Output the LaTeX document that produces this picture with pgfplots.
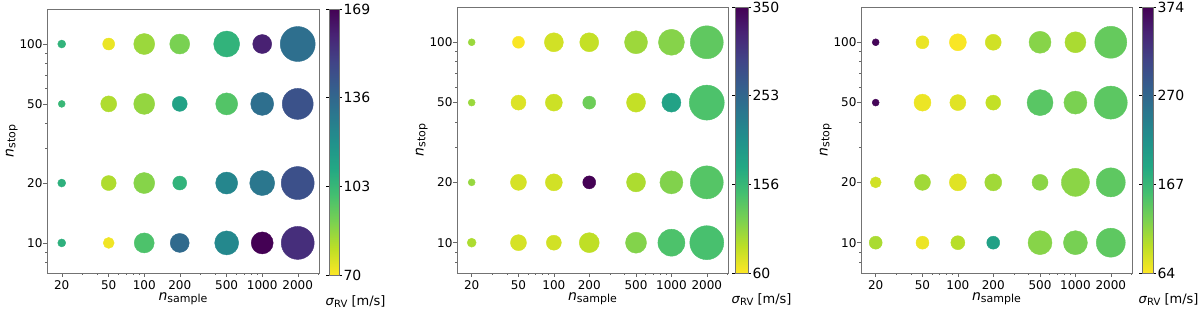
\documentclass[border=0pt]{standalone}
\usepackage{pgfplots}
\pgfplotsset{compat=1.18}
\usepackage{pgfplotstable}
\usepackage{fontspec}
\setmainfont{DejaVu Sans}

\pgfplotstableread{
x y c d
20 100 105 8
50 100 73 12
100 100 85 21
200 100 90 20
500 100 105 26
1000 100 160 19
2000 100 133 35
20 50 103 7
50 50 82 16
100 50 86 21
200 50 112 15
500 50 97 22
1000 50 133 23
2000 50 144 31
20 20 106 8
50 20 82 15
100 20 88 21
200 20 105 14
500 20 124 22
1000 20 130 25
2000 20 145 33
20 10 106 8
50 10 72 11
100 10 98 20
200 10 135 19
500 10 123 24
1000 10 169 22
2000 10 156 33
}\dataA

\pgfplotstableread{
x y c d
20 100 104 7
50 100 62 12
100 100 80 19
200 100 86 19
500 100 103 23
1000 100 113 26
2000 100 132 33
20 50 104 7
50 50 75 15
100 50 82 17
200 50 125 13
500 50 86 19
1000 50 183 19
2000 50 142 35
20 20 106 7
50 20 78 16
100 20 80 17
200 20 350 13
500 20 96 19
1000 20 115 23
2000 20 138 33
20 10 96 9
50 10 78 16
100 10 80 15
200 10 88 20
500 10 114 21
1000 10 142 27
2000 10 145 34
}\dataB

\pgfplotstableread{
x y c d
20 100 370 7
50 100 73 13
100 100 66 17
200 100 86 16
500 100 120 22
1000 100 104 21
2000 100 138 32
20 50 370 7
50 50 72 17
100 50 78 16
200 50 92 15
500 50 145 26
1000 50 126 23
2000 50 143 33
20 20 86 11
50 20 108 16
100 20 78 17
200 20 108 17
500 20 118 16
1000 20 118 28
2000 20 142 29
20 10 104 13
50 10 72 13
100 10 98 14
200 10 197 13
500 10 120 24
1000 10 128 24
2000 10 142 29
}\dataC

\pgfplotsset{
  colormap={viridisr}{rgb255=(253,231,37) rgb255=(189,223,38) rgb255=(122,209,81) rgb255=(68,191,112) rgb255=(34,168,132) rgb255=(33,145,140) rgb255=(42,120,142) rgb255=(53,95,141) rgb255=(65,68,135) rgb255=(72,36,117) rgb255=(68,1,84)},
  pts/.style={
    scatter, only marks, mark=*,
    point meta=\thisrow{c},
    scatter/use mapped color={draw=mapped color, fill=mapped color},
    visualization depends on={\thisrow{d}/2 \as \rad},
    scatter/@pre marker code/.append style={/tikz/mark size=\rad},
  },
}

\begin{document}
\begin{tikzpicture}[x=1pt,y=1pt]
\useasboundingbox (0,0) rectangle (1200,312);

\begin{axis}[scale only axis,
    anchor=south west,
    xmode=log, ymode=log,
    xmin=15, xmax=3030, ymin=7.06, ymax=150,
    xtick={20,50,100,200,500,1000,2000},
    xticklabels={20,50,100,200,500,1000,2000},
    ytick={10,20,50,100},
    yticklabels={10,20,50,100},
    minor xtick={30,40,60,70,80,90,300,400,600,700,800,900,3000},
    minor ytick={8,9,30,40,60,70,80,90},
    tick pos=left,
    tick align=outside,
    major tick length=4pt,
    minor tick length=2pt,
    every tick/.style={black!60},
    axis line style={black!55},
    ticklabel style={font=\fontsize{12}{14}\selectfont},
    yticklabel style={xshift=3pt},
    label style={font=\fontsize{14}{16}\selectfont},
    xlabel={\textit{n}{\fontsize{11}{12}\selectfont\raisebox{-0.3ex}{sample}}},
    ylabel={\textit{n}{\fontsize{11}{12}\selectfont\raisebox{-0.3ex}{stop}}},
    xlabel style={yshift=4pt},
    ylabel style={yshift=-5pt},
    colormap name=viridisr,
    at={(47pt,39pt)}, width=272pt, height=264pt,
    point meta min=70, point meta max=169,
    colorbar,
    colorbar style={
      at={(parent axis.north east)}, anchor=north west,
      xshift=1.5pt, width=10pt, height=266pt,
      ytick={70,103,136,169}, yticklabels={70,103,136,169},
      tick align=outside, major tick length=3pt,
      every tick/.style={black},
      axis line style={black!55},
      yticklabel style={font=\fontsize{14}{16}\selectfont, xshift=-2pt},
      xlabel={\textit{σ}{\fontsize{10}{12}\selectfont\raisebox{-0.3ex}{RV}} [m/s]},
      xlabel style={font=\fontsize{13}{15}\selectfont, anchor=north west, at={(rel axis cs:0,0)}, xshift=-7pt, yshift=-17pt}
    }]
\addplot[pts] table {\dataA};
\end{axis}

\begin{axis}[scale only axis,
    anchor=south west,
    xmode=log, ymode=log,
    xmin=15, xmax=3030, ymin=7.06, ymax=150,
    xtick={20,50,100,200,500,1000,2000},
    xticklabels={20,50,100,200,500,1000,2000},
    ytick={10,20,50,100},
    yticklabels={10,20,50,100},
    minor xtick={30,40,60,70,80,90,300,400,600,700,800,900,3000},
    minor ytick={8,9,30,40,60,70,80,90},
    tick pos=left,
    tick align=outside,
    major tick length=4pt,
    minor tick length=2pt,
    every tick/.style={black!60},
    axis line style={black!55},
    ticklabel style={font=\fontsize{12}{14}\selectfont},
    yticklabel style={xshift=3pt},
    label style={font=\fontsize{14}{16}\selectfont},
    xlabel={\textit{n}{\fontsize{11}{12}\selectfont\raisebox{-0.3ex}{sample}}},
    ylabel={\textit{n}{\fontsize{11}{12}\selectfont\raisebox{-0.3ex}{stop}}},
    xlabel style={yshift=4pt},
    ylabel style={yshift=-5pt},
    colormap name=viridisr,
    at={(457pt,39pt)}, width=271pt, height=266pt,
    point meta min=60, point meta max=350,
    colorbar,
    colorbar style={
      at={(parent axis.north east)}, anchor=north west,
      xshift=-1.5pt, width=13pt, height=266pt,
      ytick={60,156.67,253.33,350}, yticklabels={60,156,253,350},
      tick align=outside, major tick length=3pt,
      every tick/.style={black},
      axis line style={black!55},
      yticklabel style={font=\fontsize{14}{16}\selectfont, xshift=-2pt},
      xlabel={\textit{σ}{\fontsize{10}{12}\selectfont\raisebox{-0.3ex}{RV}} [m/s]},
      xlabel style={font=\fontsize{13}{15}\selectfont, anchor=north west, at={(rel axis cs:0,0)}, xshift=-7pt, yshift=-17pt}
    }]
\addplot[pts] table {\dataB};
\end{axis}

\begin{axis}[scale only axis,
    anchor=south west,
    xmode=log, ymode=log,
    xmin=15, xmax=3030, ymin=7.06, ymax=150,
    xtick={20,50,100,200,500,1000,2000},
    xticklabels={20,50,100,200,500,1000,2000},
    ytick={10,20,50,100},
    yticklabels={10,20,50,100},
    minor xtick={30,40,60,70,80,90,300,400,600,700,800,900,3000},
    minor ytick={8,9,30,40,60,70,80,90},
    tick pos=left,
    tick align=outside,
    major tick length=4pt,
    minor tick length=2pt,
    every tick/.style={black!60},
    axis line style={black!55},
    ticklabel style={font=\fontsize{12}{14}\selectfont},
    yticklabel style={xshift=3pt},
    label style={font=\fontsize{14}{16}\selectfont},
    xlabel={\textit{n}{\fontsize{11}{12}\selectfont\raisebox{-0.3ex}{sample}}},
    ylabel={\textit{n}{\fontsize{11}{12}\selectfont\raisebox{-0.3ex}{stop}}},
    xlabel style={yshift=4pt},
    ylabel style={yshift=-5pt},
    colormap name=viridisr,
    at={(861pt,39pt)}, width=271pt, height=266pt,
    point meta min=64, point meta max=374,
    colorbar,
    colorbar style={
      at={(parent axis.north east)}, anchor=north west,
      xshift=1.5pt, width=11pt, height=266pt,
      ytick={64,167.33,270.67,374}, yticklabels={64,167,270,374},
      tick align=outside, major tick length=3pt,
      every tick/.style={black},
      axis line style={black!55},
      yticklabel style={font=\fontsize{14}{16}\selectfont, xshift=-2pt},
      xlabel={\textit{σ}{\fontsize{10}{12}\selectfont\raisebox{-0.3ex}{RV}} [m/s]},
      xlabel style={font=\fontsize{13}{15}\selectfont, anchor=north west, at={(rel axis cs:0,0)}, xshift=-7pt, yshift=-17pt}
    }]
\addplot[pts] table {\dataC};
\end{axis}
\end{tikzpicture}
\end{document}
